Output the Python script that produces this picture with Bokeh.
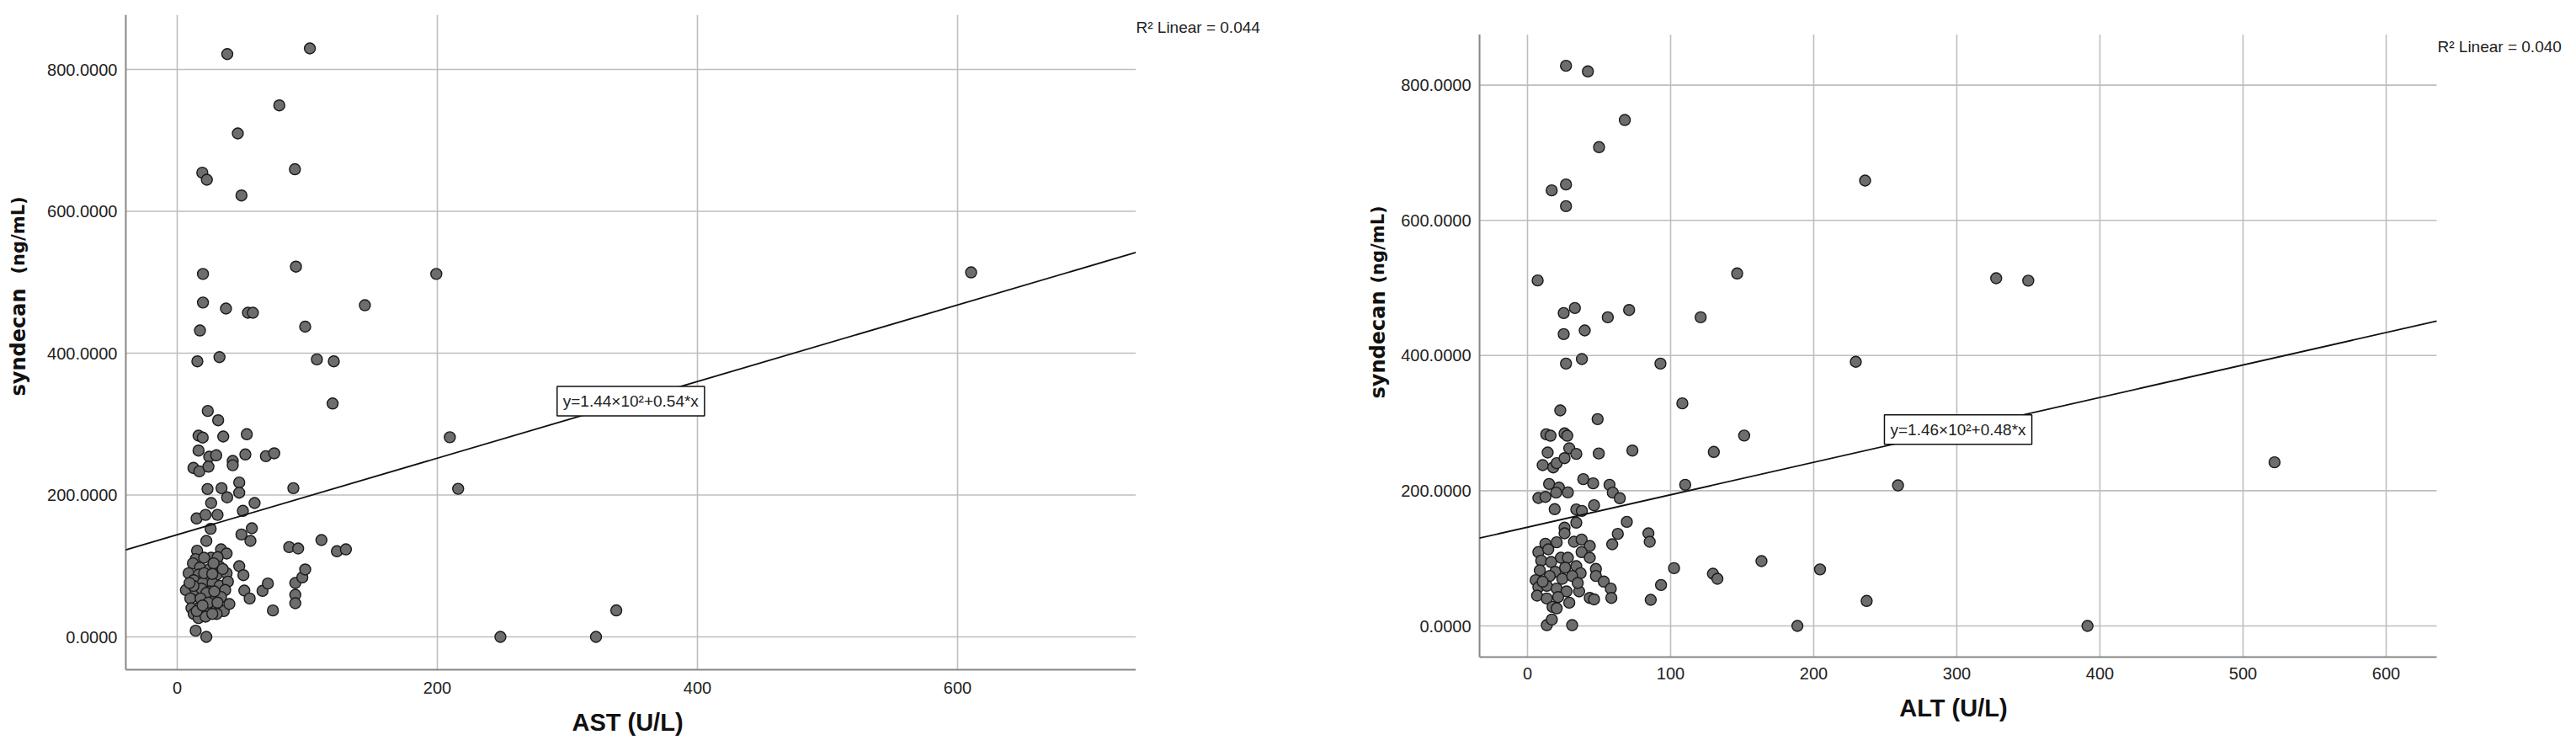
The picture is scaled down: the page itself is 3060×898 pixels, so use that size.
import math
from bokeh.plotting import figure
from bokeh.layouts import row
from bokeh.models import Range1d, Label
from bokeh.core.properties import value
from bokeh.embed import file_html
from bokeh.resources import INLINE

# ---------------- data ----------------
ast_x = [38.5, 102, 78.5, 46.6, 19.3, 22.8, 90.5, 49.4, 19.8, 91.3, 199.2, 19.8, 37.5, 54.4, 58.2, 144.3,
         17.5, 98.4, 15.5, 32.5, 107.4, 120.4,
         119.5, 23.5, 31.5, 16.4, 19.6, 35.4, 53.5, 16.4, 24.6, 30, 42.7, 42.7, 52.4, 68.2, 74.6, 12.5, 17, 24,
         47.7, 47.7, 23.3, 34.1, 38.4, 89.3, 26.1, 59.5, 14.9, 21.8, 31, 50.5, 25.7, 57.4, 49.4, 56.3, 22.4,
         86.1, 93, 110.9, 122.8, 129.7,
         15.3, 33.7, 38, 14.2, 26.1, 31.1, 12.1, 17.5, 25, 32.6, 8.8, 16.4, 23.9, 30.4, 38, 12.7, 19.6, 27.2,
         32.6, 39, 6.7, 14.2, 18.6, 25, 36.9, 10.1, 19.6, 28.3, 33.7, 11, 17.5, 22.9, 30.4, 35.8, 40.1, 12.7,
         16.4, 21.8, 30.4, 14.2, 22.4,
         20.7, 28, 20.7, 27, 35, 12.5, 22.5, 28.5, 18, 24, 31, 9.5, 15, 27, 19.5,
         47.7, 50.9, 51.6, 55.7, 65.6, 69.7, 73.6, 90.8, 90.8, 90.8, 96.2, 98.4,
         209.6, 216, 248.5, 322, 337.6, 610.4]
ast_syn = [821.7, 829.7, 749.3, 709.8, 654.4, 644.5, 659.3, 622.3, 511.7, 522, 511.7, 471.4, 462.9, 457, 457, 467.6,
           432, 437.4, 388.5, 394.4, 391.3, 388.5,
           329, 318.5, 305.4, 283.7, 281, 282.5, 285.7, 262.7, 254, 256, 248, 242, 257.2, 254.8, 258.8, 238.2, 233.4, 240,
           217.6, 203.3, 208.5, 209.7, 196.7, 209.7, 188.7, 188.7, 167, 172, 172, 177.7, 152.3, 153.1, 144.4, 135.3, 135.3,
           126.6, 124.6, 136.5, 120.7, 123.4,
           121.5, 123.4, 117.5, 109.6, 111.6, 112.4, 103.7, 97.7, 95.7, 98.9, 89.8, 87.8, 85.9, 87.8, 89.8, 79.9, 76, 76,
           72, 77.9, 66.1, 66.1, 68, 64.1, 66.1, 54.2, 54.2, 54.2, 56.2, 40.4, 42.3, 40.4, 44.3, 36.4, 46.3, 32.4,
           26.5, 28.5, 32.4, 8.7, 0,
           111.6, 103.7, 89.8, 88.8, 95.7, 72, 62, 64.1, 54.2, 48.3, 48.3, 76, 36.4, 32.4, 44.3,
           99.7, 87, 65.3, 54.2, 64.9, 75.2, 37.2, 76, 59.3, 47.5, 83.9, 95,
           281.4, 208.8, 0, 0, 37.3, 513.9]

alt_x = [26.9, 42.2, 68, 50, 26.9, 16.9, 26.9, 235.9, 7.1, 146.5,
         327.5, 349.9, 522, 391.3, 188.6, 237, 204.4, 258.9, 229.4,
         25.3, 33.1, 56.1, 71, 121, 25.3, 40, 26.9, 38, 92.9, 108.2, 22.9, 49, 13.1, 16.1, 25.9, 27.8, 151.4,
         14.1, 29.2, 34.1, 49.8, 73.3, 130.2, 10.6, 18, 20.4, 25.9, 39, 45.9, 57.3, 59.6, 64.5, 110.2, 15.1, 22,
         20, 28.2, 7.6, 12.5, 19, 34.1, 38, 46.5, 34.1, 25.9, 25.9, 69.4, 63.1, 59.2, 84.5, 85.4, 32.5, 37.8,
         43.5, 37.8, 43.5, 102.4, 129.6, 132.7, 163.5, 93.3, 86.1, 47.8, 47.8, 53.3, 58.2, 58.6, 43.5, 46.5,
         13.5, 17, 31.2,
         12.5, 20.4, 7.6, 14.5, 23.3, 28.2, 9.6, 16.5, 34.1, 8.6, 19.4, 26.3, 37.1, 5.7, 15.5, 24.3, 31.2, 7.6,
         13.5, 20.4, 27.3, 36.1, 6.7, 13.5, 21.4, 29.2, 17.5, 20.4, 35.1, 10.6]
alt_syn = [828.6, 820.3, 748.4, 708.2, 653, 644.3, 621, 658.8, 511, 521.4,
           514.3, 510.7, 242, 0, 0, 37, 83.6, 207.9, 390.7,
           462.8, 470.3, 456.6, 467.4, 456.6, 431.7, 437.1, 388.1, 394.8, 388.1, 329.2, 318.8, 305.9, 283.5, 281.4,
           284.8, 281.4, 281.6, 256.5, 262.8, 254.5, 255.1, 259.4, 257.4, 237.9, 234.5, 240.8, 248.2, 217.1, 210.9,
           208.8, 197.2, 188.9, 208.8, 210, 204.6, 197.2, 197.6, 189.3, 190.9, 172.7, 172.3, 170.2, 178.5, 152.8,
           145.3, 137, 154, 136.2, 120.8, 137, 124.5, 124.5, 127.8, 118.3, 109.2, 100.9, 85.5, 77.2, 69.7, 95.9,
           60.6, 38.6, 84.3, 73.9, 65.6, 55.2, 41.5, 41.5, 39.3, 1.2, 9.5, 1.2,
           121.6, 123.7, 109.2, 113.3, 100.9, 100.9, 96.7, 94.6, 88.4, 82.2, 80.1, 86.3, 78, 67.7, 73.9, 69.7,
           73.9, 57.3, 59.4, 55.2, 51.1, 51.1, 44.8, 40.6, 42.7, 34.4, 28.2, 26.1, 63.5, 65.6]

ast_ticks = [0, 200, 400, 600]
alt_ticks = [0, 100, 200, 300, 400, 500, 600]
syn_ticks = [0, 200, 400, 600, 800]
syn_tick_labels = ["0.0000", "200.0000", "400.0000", "600.0000", "800.0000"]

ast_fit = [144.0, 0.54]   # intercept, slope
alt_fit = [146.0, 0.48]
ast_eq = "y=1.44\u00d710\u00b2+0.54*x"
alt_eq = "y=1.46\u00d710\u00b2+0.48*x"
ast_r2 = "R\u00b2 Linear = 0.044"
alt_r2 = "R\u00b2 Linear = 0.040"
y_title_main = "syndecan"
y_title_unit = "(ng/mL)"

TICK_FONT = "Liberation Sans"
FIG_H = 882


def panel(cfg):
    W = cfg["width"]
    x0, sx = cfg["x0"], cfg["sx"]      # pixel of x=0 within figure, px per unit
    y0, sy = cfg["y0"], cfg["sy"]      # pixel (from top) of y=0, px per unit
    xr = ((0 - x0) / sx, (W - x0) / sx)
    yr = ((y0 - FIG_H) / sy, y0 / sy)
    xlo, xhi = cfg["xbox"]
    ylo, yhi = cfg["ybox"]
    xticks = cfg["xticks"]

    p = figure(width=W, height=FIG_H, x_range=Range1d(*xr), y_range=Range1d(*yr),
               output_backend="svg", toolbar_location=None,
               x_axis_location=None, y_axis_location=None, min_border=0)
    p.min_border_left = p.min_border_right = p.min_border_top = p.min_border_bottom = 0
    p.outline_line_color = None
    p.xgrid.visible = False
    p.ygrid.visible = False

    # grid lines
    p.segment(x0=xticks, x1=xticks, y0=[ylo] * len(xticks), y1=[yhi] * len(xticks),
              line_color="#bebebe", line_width=1.6)
    p.segment(x0=[xlo] * len(syn_ticks), x1=[xhi] * len(syn_ticks), y0=syn_ticks, y1=syn_ticks,
              line_color="#bebebe", line_width=1.6)
    # axis lines
    p.segment(x0=[xlo, xlo], x1=[xlo, xhi], y0=[ylo, ylo], y1=[yhi, ylo],
              line_color="#878787", line_width=2)

    # tick labels
    p.text(x=xticks, y=[ylo] * len(xticks), text=[str(t) for t in xticks], y_offset=cfg["xlab_off"],
           text_align="center", text_baseline="middle", text_font=value(TICK_FONT),
           text_font_size="20px", text_color="#222222")
    p.text(x=[xlo] * len(syn_ticks), y=syn_ticks, text=syn_tick_labels, x_offset=-10,
           text_align="right", text_baseline="middle", text_font=value(TICK_FONT),
           text_font_size="20px", text_color="#222222")

    # points
    p.scatter(cfg["xs"], cfg["ys"], size=13, marker="circle", fill_color="#6d6d6d",
              line_color="#1a1a1a", line_width=1.4)

    # fit line across the axis box
    a, b = cfg["fit"]
    lx = [xlo, xhi]
    p.line(lx, [a + b * v for v in lx], line_color="#111111", line_width=1.8)
    xm = (xlo + xhi) / 2.0
    p.add_layout(Label(x=xm, y=a + b * xm, text=cfg["eq"], text_align="center", text_baseline="middle",
                       text_font=TICK_FONT, text_font_size="19px", text_color="#222222",
                       background_fill_color="white", border_line_color="#111111", border_line_width=1.5,
                       padding=7))

    # x-axis title
    tx, ty = cfg["xtitle_pos"]
    p.add_layout(Label(x=tx, y=FIG_H - ty, x_units="screen", y_units="screen", text=cfg["xtitle"],
                       text_align="center", text_baseline="middle", text_font="Liberation Sans",
                       text_font_style="bold", text_font_size="29px", text_color="#111111"))
    # R^2 note
    rx, ry = cfg["r2_pos"]
    p.add_layout(Label(x=rx, y=FIG_H - ry, x_units="screen", y_units="screen", text=cfg["r2"],
                       text_align="left", text_baseline="middle", text_font=TICK_FONT,
                       text_font_size="19px", text_color="#222222"))
    # y-axis title (two sizes, rotated)
    yx, ym, yu = cfg["ytitle_pos"]
    p.add_layout(Label(x=yx, y=FIG_H - ym, x_units="screen", y_units="screen", text=y_title_main,
                       angle=math.pi / 2, text_align="left", text_baseline="middle",
                       text_font="DejaVu Sans", text_font_style="bold", text_font_size="24px",
                       text_color="#111111"))
    p.add_layout(Label(x=yx, y=FIG_H - yu, x_units="screen", y_units="screen", text=y_title_unit,
                       angle=math.pi / 2, text_align="left", text_baseline="middle",
                       text_font="DejaVu Sans", text_font_style="bold", text_font_size="21px",
                       text_color="#111111"))
    return p


# figure-local pixel geometry (page coordinates minus the 8px margin)
left_cfg = dict(width=1592, x0=210, sx=1.545, y0=756, sy=0.8425,
                xbox=(-39.5, 737.0), ybox=(-46.3, 877.0), xticks=ast_ticks,
                xs=ast_x, ys=ast_syn, fit=ast_fit, eq=ast_eq, r2=ast_r2,
                xtitle="AST (U/L)", xtitle_pos=(745, 857), xlab_off=21,
                r2_pos=(1349, 32), ytitle_pos=(21, 470, 325))
right_cfg = dict(width=1452, x0=222, sx=1.70, y0=743, sy=0.803,
                 xbox=(-33.5, 635.3), ybox=(-46.0, 875.0), xticks=alt_ticks,
                 xs=alt_x, ys=alt_syn, fit=alt_fit, eq=alt_eq, r2=alt_r2,
                 xtitle="ALT (U/L)", xtitle_pos=(728, 840), xlab_off=20,
                 r2_pos=(1303, 55), ytitle_pos=(44, 473, 336))

p1 = panel(left_cfg)
p2 = panel(right_cfg)

layout = row(p1, p2)
open("out.html", "w").write(file_html(layout, INLINE))
